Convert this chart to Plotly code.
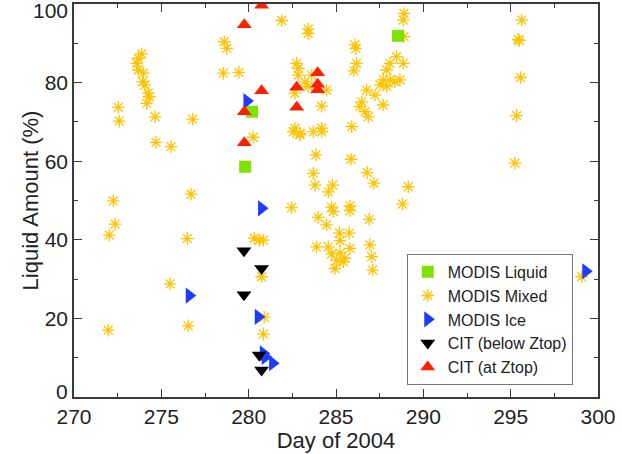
import plotly.graph_objects as go

# ---- data (day of 2004, liquid amount %) ----
liquid_day = [279.8, 280.2, 288.55]
liquid_val = [58.6, 72.6, 91.9]

mixed_day = [273.88, 273.68, 273.59, 273.68, 273.97, 273.93, 274.06, 274.25, 274.31, 274.16,
             272.54, 272.59, 274.64, 276.79, 274.69, 275.55, 278.60, 278.74, 278.55, 279.44,
             276.70, 272.25, 272.35, 272.02, 276.49, 275.50, 276.54, 271.96, 280.32, 280.61,
             280.84, 280.74, 280.89, 280.84, 280.26,
             281.89, 283.41, 283.41, 286.08, 286.14, 286.18, 286.03, 282.75, 282.84, 282.84,
             283.61, 283.22, 283.41, 284.46, 282.65, 284.18, 282.65, 282.94, 283.70, 284.18,
             285.90, 288.89, 288.85, 288.89, 288.47, 288.85, 288.09, 287.90, 287.70, 288.09,
             288.37, 287.52, 287.90, 286.75, 287.23, 286.47, 286.37, 286.66, 286.85, 287.70,
             288.66,
             295.63, 295.43, 295.49, 295.57, 295.34, 295.24, 289.14, 288.81, 299.06,
             282.55, 283.85, 285.86, 283.70, 283.80, 284.81, 284.56, 286.79, 287.17, 282.46,
             284.75, 284.84, 285.80, 285.80, 283.98, 284.46, 286.90, 285.19, 285.76, 285.23,
             283.89, 284.56, 284.75, 285.23, 285.51, 285.80, 285.04, 285.42, 284.94, 286.94,
             287.04, 287.10, 282.94, 284.18]
mixed_val = [87.3, 86.2, 84.9, 83.2, 82.4, 80.2, 79.4, 77.3, 76.4, 74.7,
             73.7, 70.2, 71.3, 70.7, 64.8, 63.7, 90.4, 88.7, 82.4, 82.6,
             51.6, 49.9, 44.0, 41.2, 40.3, 28.8, 18.1, 17.0, 40.4, 39.9,
             39.9, 30.6, 20.3, 16.0, 66.1,
             95.8, 93.6, 92.5, 89.6, 88.7, 84.9, 83.0, 84.9, 83.6, 81.9,
             81.9, 80.2, 79.0, 78.1, 77.3, 74.0, 68.4, 67.1, 67.5, 68.4,
             68.8, 97.6, 95.9, 91.7, 86.6, 84.9, 84.9, 83.2, 80.7, 80.7,
             80.2, 79.4, 79.0, 78.1, 76.8, 75.1, 73.9, 72.6, 71.3, 74.3,
             80.7,
             95.9, 91.0, 90.7, 81.3, 71.6, 59.5, 53.5, 49.1, 30.6,
             67.5, 61.6, 60.5, 56.9, 53.9, 53.9, 52.2, 57.1, 54.4, 48.2,
             48.3, 47.2, 48.6, 47.4, 45.7, 43.8, 45.2, 41.7, 41.7, 39.8,
             38.2, 38.2, 36.4, 36.6, 35.3, 37.8, 34.7, 34.4, 32.7, 38.7,
             35.7, 32.3, 66.7, 67.5]

ice_day = [279.9, 280.74, 280.55, 280.84, 280.95, 281.37, 276.6, 299.3]
ice_val = [75.3, 48.0, 20.4, 11.1, 10.2, 8.6, 25.8, 32.0]

below_day = [279.73, 280.74, 279.73, 280.74, 280.6]
below_val = [37.2, 32.7, 26.0, 6.9, 10.7]

atz_day = [279.75, 279.75, 279.75, 280.74, 280.74, 282.75, 282.75, 283.95, 283.95, 283.95]
atz_val = [94.7, 72.6, 64.7, 99.7, 77.9, 78.8, 73.7, 82.5, 79.6, 78.2]

x_ticks = [270, 275, 280, 285, 290, 295, 300]
y_ticks = [0, 20, 40, 60, 80, 100]

FONT = "Liberation Sans, Arial, sans-serif"
AX = "#3a3a3a"
TXT = "#222"

fig = go.Figure()
fig.add_trace(go.Scatter(x=mixed_day, y=mixed_val, mode="markers", name="MODIS Mixed",
                         legendrank=2, legendgroup="b",
                         marker=dict(symbol="asterisk-open", size=10.5, color="#FFC300",
                                     line=dict(width=1.3, color="#FFC300"))))
fig.add_trace(go.Scatter(x=liquid_day, y=liquid_val, mode="markers", name="MODIS Liquid",
                         legendrank=1, legendgroup="a",
                         marker=dict(symbol="square", size=12, color="#7FE300")))
fig.add_trace(go.Scatter(x=ice_day, y=ice_val, mode="markers", name="MODIS Ice",
                         legendrank=3, legendgroup="c",
                         marker=dict(symbol="triangle-right", size=14, color="#1E3CFF")))
fig.add_trace(go.Scatter(x=below_day, y=below_val, mode="markers", name="CIT (below Ztop)",
                         legendrank=4, legendgroup="d",
                         marker=dict(symbol="triangle-down", size=13, color="#000000")))
fig.add_trace(go.Scatter(x=atz_day, y=atz_val, mode="markers", name="CIT (at Ztop)",
                         legendrank=5, legendgroup="e",
                         marker=dict(symbol="triangle-up", size=13, color="#FF2000")))

axis_common = dict(showgrid=False, zeroline=False, showline=True, mirror="ticks",
                   linecolor=AX, linewidth=1.5, ticks="inside", ticklen=8, tickwidth=1.2,
                   tickcolor=AX, automargin=False,
                   tickfont=dict(family=FONT, size=21, color=TXT))

fig.update_layout(
    width=622, height=454,
    margin=dict(l=74, r=24, t=4, b=57),
    paper_bgcolor="white", plot_bgcolor="white",
    font=dict(family=FONT, color=TXT),
    xaxis=dict(range=[270, 300], tickvals=x_ticks, **axis_common,
               minor=dict(dtick=2.5, ticklen=4, ticks="inside", tickcolor=AX),
               title=dict(text="Day of 2004", font=dict(family=FONT, size=22, color=TXT),
                          standoff=0)),
    yaxis=dict(range=[0, 100], tickvals=y_ticks,
               ticktext=["", "20", "40", "60", "80", ""], **axis_common,
               minor=dict(dtick=10, ticklen=4, ticks="inside", tickcolor=AX),
               title=dict(text="Liquid Amount (%)", font=dict(family=FONT, size=22, color=TXT),
                          standoff=0)),
    legend=dict(x=0.635, y=0.031, xanchor="left", yanchor="bottom",
                bgcolor="white", bordercolor="#777", borderwidth=1,
                font=dict(family=FONT, size=16, color=TXT),
                tracegroupgap=0),
    showlegend=True,
)

for v, shift in [(100, -6), (0, 6)]:
    fig.add_annotation(x=0, xref="paper", y=v, yref="y", text=str(v), showarrow=False,
                       xanchor="right", yanchor="middle", xshift=-4, yshift=shift,
                       font=dict(family=FONT, size=21, color=TXT))

fig.write_html("out.html", config={"displayModeBar": False},
               post_script="document.body.style.margin='0';document.body.style.padding='0';")
